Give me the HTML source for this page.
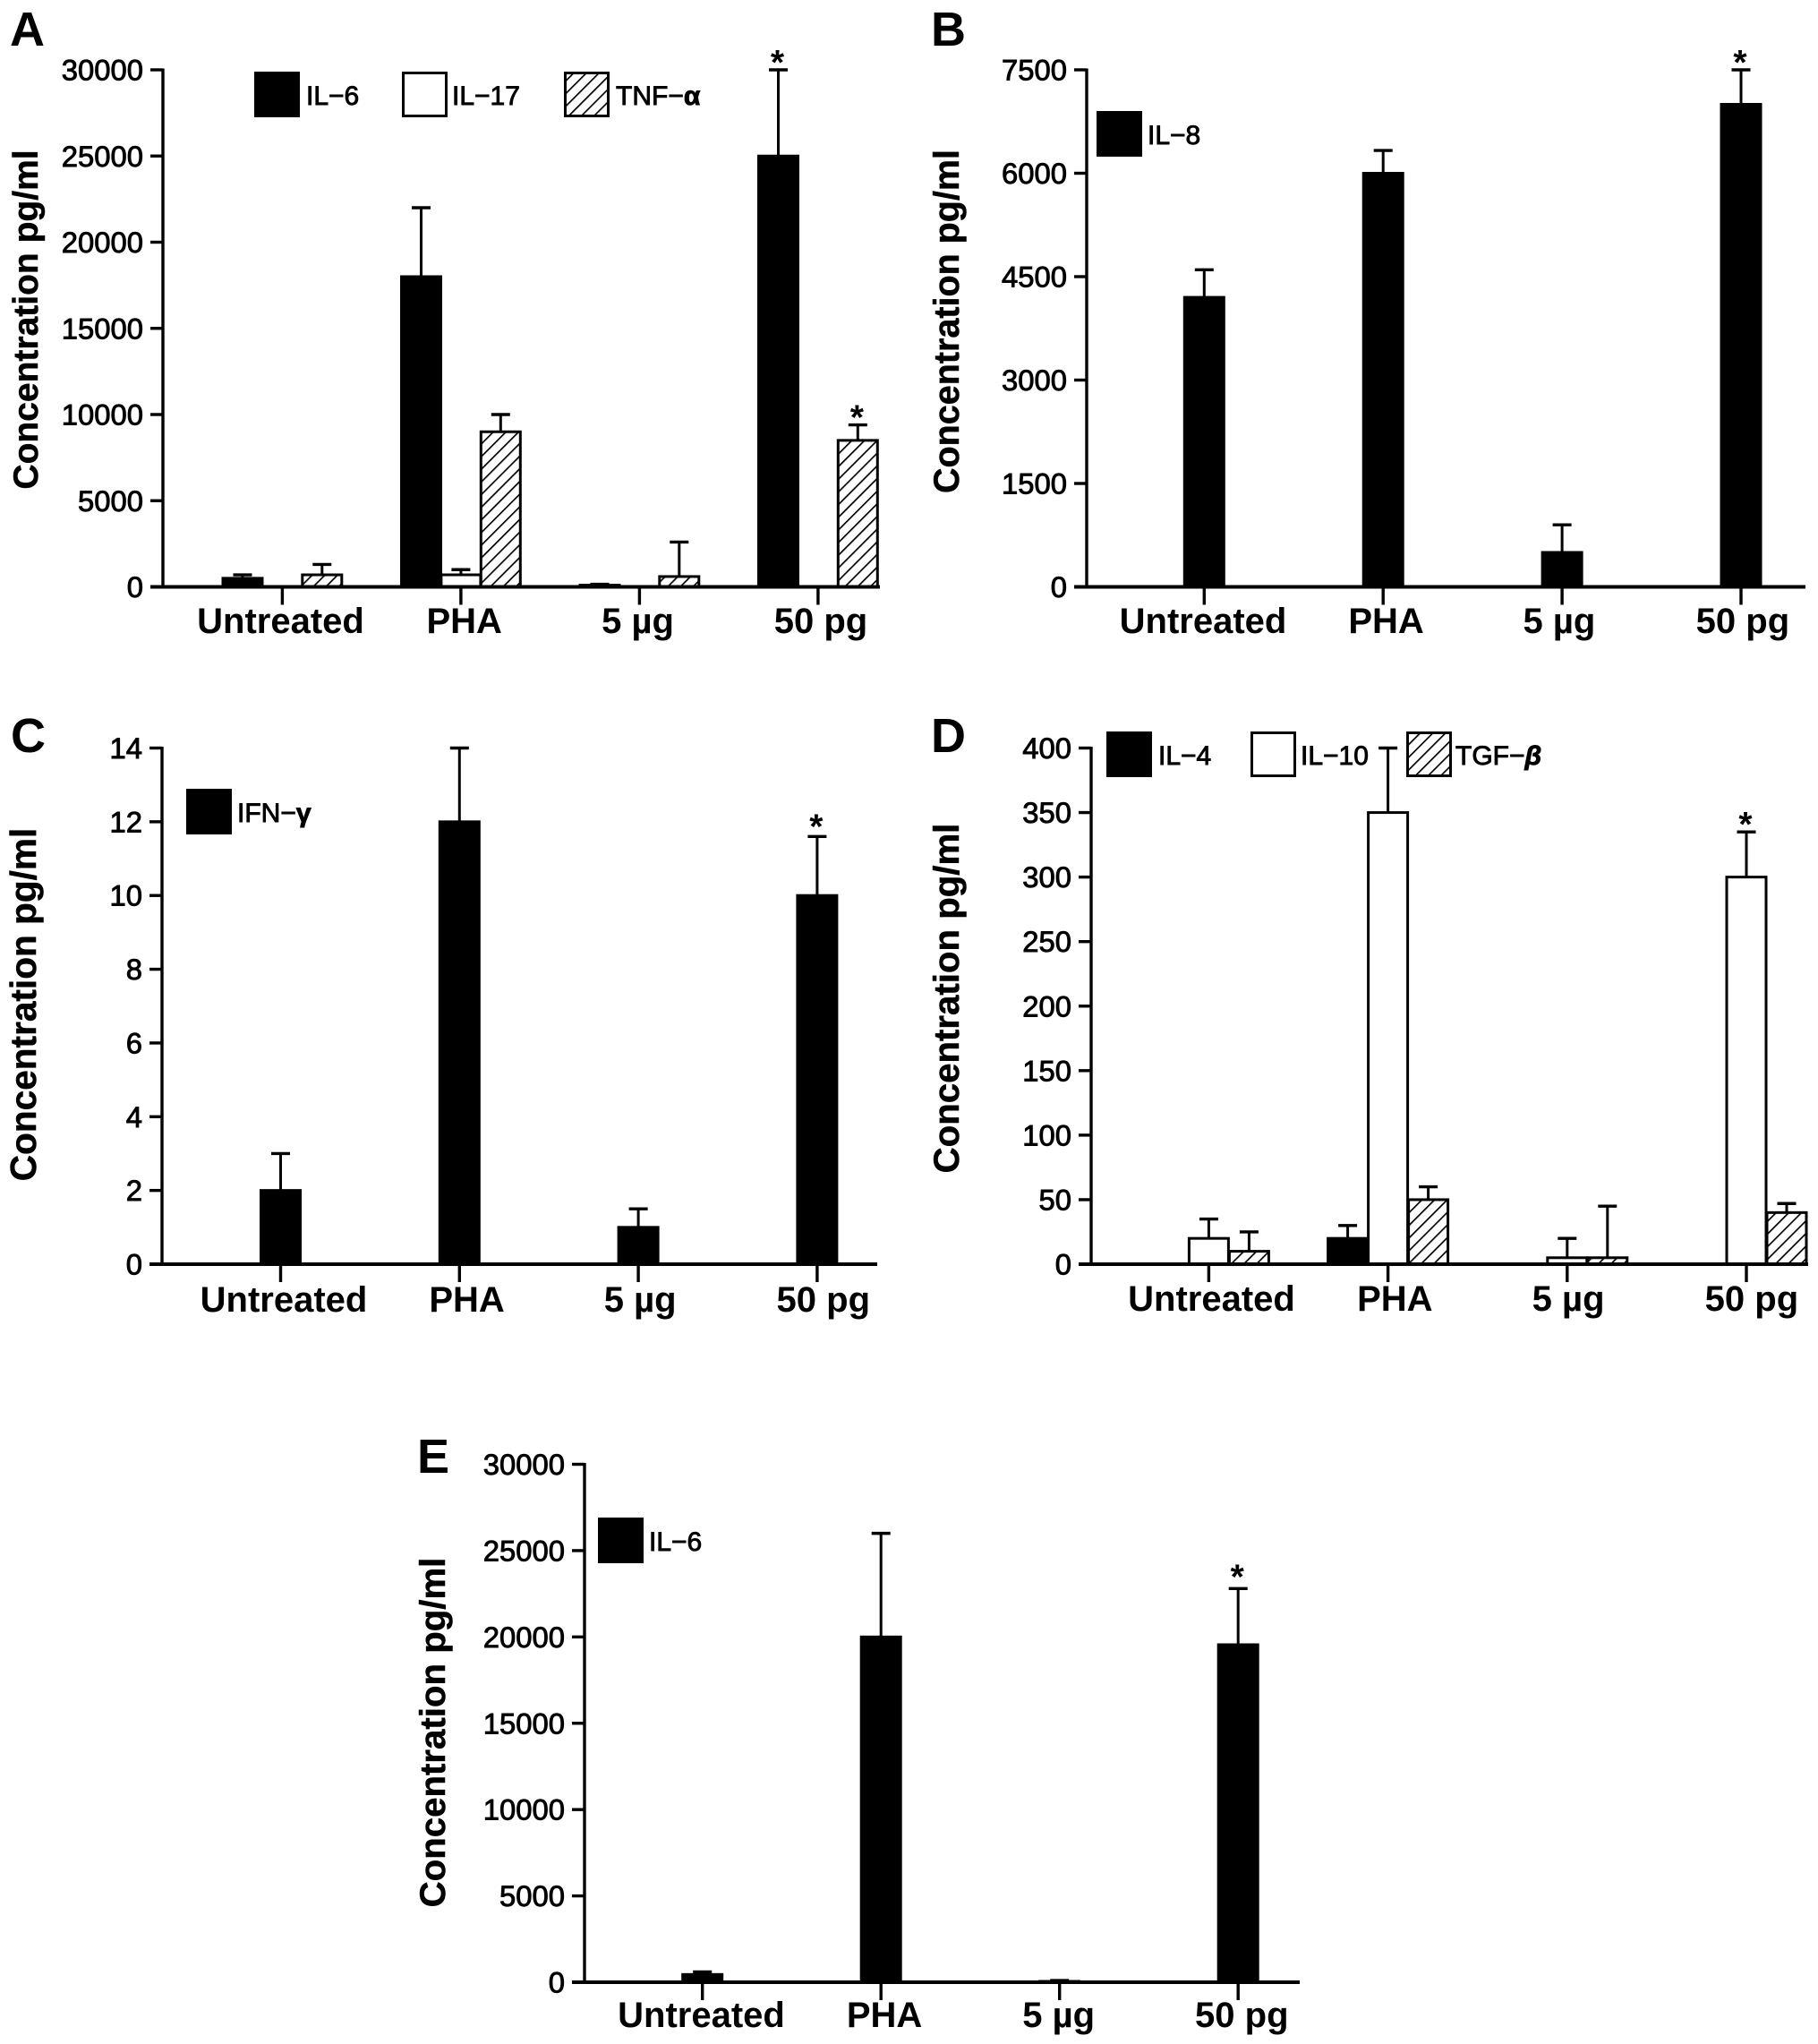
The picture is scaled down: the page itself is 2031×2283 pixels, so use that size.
<!DOCTYPE html>
<html lang="en">
<head>
<meta charset="utf-8">
<title>Cytokine concentration bar charts</title>
<style>
html,body{margin:0;padding:0;background:#fff}
svg{display:block}
text{font-family:"Liberation Sans",sans-serif;fill:#000}
</style>
</head>
<body>
<svg id="figure" xmlns="http://www.w3.org/2000/svg" width="2031" height="2283" viewBox="0 0 2031 2283">
<defs>
<pattern id="hatch" patternUnits="userSpaceOnUse" width="10" height="10" patternTransform="rotate(45)">
<rect width="10" height="10" fill="#fff"></rect>
<line x1="0" y1="0" x2="0" y2="10" stroke="#000" stroke-width="3.4"></line>
</pattern>
</defs>
</svg>
<script>
const categories = ['Untreated', 'PHA', '5 µg', '50 pg'];

const ticksA = [0, 5000, 10000, 15000, 20000, 25000, 30000];
const il6A = [500, 18000, 100, 25000];
const il6TopA = [700, 22000, 150, 30000];
const il17A = [0, 700, 0, 0];
const il17TopA = [0, 1000, 0, 0];
const tnfA = [700, 9000, 600, 8500];
const tnfTopA = [1300, 10000, 2600, 9400];

const ticksB = [0, 1500, 3000, 4500, 6000, 7500];
const il8B = [4200, 6000, 500, 7000];
const il8TopB = [4600, 6330, 900, 7500];

const ticksC = [0, 2, 4, 6, 8, 10, 12, 14];
const ifnC = [2, 12, 1, 10];
const ifnTopC = [3, 14, 1.5, 11.6];

const ticksD = [0, 50, 100, 150, 200, 250, 300, 350, 400];
const il4D = [0, 20, 0, 0];
const il4TopD = [0, 30, 0, 0];
const il10D = [20, 350, 5, 300];
const il10TopD = [35, 400, 20, 335];
const tgfD = [10, 50, 5, 40];
const tgfTopD = [25, 60, 45, 47];

const ticksE = [0, 5000, 10000, 15000, 20000, 25000, 30000];
const il6E = [450, 20000, 50, 19550];
const il6TopE = [600, 26000, 100, 22800];

const svg = document.getElementById('figure');
const NS = 'http://www.w3.org/2000/svg';

function mk(parent, tag, attrs, txt) {
  const el = document.createElementNS(NS, tag);
  for (const k in attrs) el.setAttribute(k, attrs[k]);
  if (txt !== undefined) el.textContent = txt;
  parent.appendChild(el);
  return el;
}

function fillOf(kind) {
  return kind === 'black' ? '#000' : kind === 'white' ? '#fff' : 'url(#hatch)';
}

function drawPanel(p) {
  const g = mk(svg, 'g', {});
  
  

  const maxV = p.ticks[p.ticks.length - 1];
  const y = v => p.y0 - (v / maxV) * (p.y0 - p.top);
  const x = i => p.firstTick + i * p.step;

  const letter = mk(g, 'text', {x: p.letterX, y: p.letterY, 'font-size': 54, 'font-weight': 700}, p.letter);
  
  

  const title = mk(g, 'text', {
    transform: 'translate(' + p.titleX + ',' + p.titleY + ') rotate(-90)',
    'text-anchor': 'middle', 'font-size': p.titleSize, 'font-weight': 700,
    stroke: '#000', 'stroke-width': 0.5
  }, 'Concentration pg/ml');
  
  

  p.series.forEach(function (s) {
    s.values.forEach(function (v, i) {
      const cx = x(i) + s.offset * p.barGap;
      if (s.tops[i] > v) {
        const stem = mk(g, 'line', {x1: cx, x2: cx, y1: y(v), y2: y(s.tops[i]), stroke: '#000', 'stroke-width': 3});
        
        
        const cap = mk(g, 'line', {x1: cx - 10.5, x2: cx + 10.5, y1: y(s.tops[i]), y2: y(s.tops[i]), stroke: '#000', 'stroke-width': 3.4});
        
        
      }
      if (v > 0) {
        const bar = mk(g, 'rect', {
          x: cx - p.barW / 2, y: y(v), width: p.barW, height: p.y0 - y(v),
          fill: fillOf(s.kind), stroke: '#000', 'stroke-width': 3
        });
        
        
      }
      if (s.stars && s.stars.includes(i)) {
        const star = mk(g, 'text', {x: cx - 1, y: y(s.tops[i]) + p.starDrop, 'text-anchor': 'middle', 'font-size': 39, 'font-weight': 700}, '*');
        
        
      }
    });
  });

  const yAxis = mk(g, 'line', {x1: p.left, x2: p.left, y1: p.top - 1.5, y2: p.y0 + 2, stroke: '#000', 'stroke-width': 3.4});
  
  
  const xAxis = mk(g, 'line', {x1: p.left - 14, x2: p.right, y1: p.y0, y2: p.y0, stroke: '#000', 'stroke-width': 4});
  
  

  p.ticks.forEach(function (t) {
    const tick = mk(g, 'line', {x1: p.left - 14, x2: p.left, y1: y(t), y2: y(t), stroke: '#000', 'stroke-width': 3.4});
    
    
    const lab = mk(g, 'text', {
      x: p.left - 22, y: y(t) + 11.5, 'text-anchor': 'end', 'font-size': 32.8,
      stroke: '#000', 'stroke-width': 0.9
    }, String(t));
    
    
  });

  categories.forEach(function (c, i) {
    const tick = mk(g, 'line', {x1: x(i), x2: x(i), y1: p.y0, y2: p.y0 + 20, stroke: '#000', 'stroke-width': 3.4});
    
    
    const lab = mk(g, 'text', {
      x: x(i) + p.labelShift[i], y: p.y0 + p.labelDrop, 'text-anchor': 'middle', 'font-size': 40, 'font-weight': 700
    }, c);
    
    
  });

  p.legend.forEach(function (l) {
    const sw = mk(g, 'rect', {x: l.x + 1.5, y: p.legendY + 1.5, width: 48, height: 48, fill: fillOf(l.kind), stroke: '#000', 'stroke-width': 3});
    
    
    const tx = mk(g, 'text', {x: l.textX, y: p.legendY + 37, 'font-size': 30, stroke: '#000', 'stroke-width': 0.9}, l.label);
    
    
    if (l.greek) {
      const gk = mk(tx, 'tspan', {'font-weight': 700, 'font-style': l.greekStyle || 'normal'}, l.greek);
      
      
    }
  });
}

drawPanel({
  letter: 'A', letterX: 11, letterY: 51, titleX: 42, titleY: 357, titleSize: 39, starDrop: 5,
  left: 182, right: 983, top: 78, y0: 655.5, firstTick: 315.4, step: 199.5, barW: 44, barGap: 44.4,
  labelShift: [-1.9, 3.8, -1.9, 3.1], labelDrop: 51.5,
  ticks: ticksA, legendY: 80,
  legend: [
    {kind: 'black', x: 284, textX: 342, label: 'IL−6'},
    {kind: 'white', x: 449, textX: 505, label: 'IL−17'},
    {kind: 'hatch', x: 630, textX: 688, label: 'TNF−', greek: 'α'}
  ],
  series: [
    {name: 'IL-6', kind: 'black', offset: -1, values: il6A, tops: il6TopA, stars: [3]},
    {name: 'IL-17', kind: 'white', offset: 0, values: il17A, tops: il17TopA},
    {name: 'TNF', kind: 'hatch', offset: 1, values: tnfA, tops: tnfTopA, stars: [3]}
  ]
});

drawPanel({
  letter: 'B', letterX: 1040, letterY: 51, titleX: 1071, titleY: 359, titleSize: 39.5, starDrop: 5,
  left: 1214, right: 2017, top: 78, y0: 655.5, firstTick: 1345.3, step: 199.9, barW: 44, barGap: 44.4,
  labelShift: [-1.3, 3.4, -3.2, 1.9], labelDrop: 51.5,
  ticks: ticksB, legendY: 124,
  legend: [{kind: 'black', x: 1225, textX: 1282, label: 'IL−8'}],
  series: [{name: 'IL-8', kind: 'black', offset: 0, values: il8B, tops: il8TopB, stars: [3]}]
});

drawPanel({
  letter: 'C', letterX: 12, letterY: 840, titleX: 40, titleY: 1122, titleSize: 40.6, starDrop: 2,
  left: 181, right: 980, top: 835.5, y0: 1412, firstTick: 313.5, step: 199.8, barW: 44, barGap: 44.4,
  labelShift: [3.5, 8.3, 2.1, 6.9], labelDrop: 53,
  ticks: ticksC, legendY: 881,
  legend: [{kind: 'black', x: 208, textX: 265, label: 'IFN−', greek: 'γ'}],
  series: [{name: 'IFN', kind: 'black', offset: 0, values: ifnC, tops: ifnTopC, stars: [3]}]
});

drawPanel({
  letter: 'D', letterX: 1040, letterY: 840, titleX: 1071, titleY: 1115, titleSize: 40.2, starDrop: 5,
  left: 1219, right: 2020, top: 835.5, y0: 1412, firstTick: 1350.4, step: 200.2, barW: 44, barGap: 45,
  labelShift: [3.1, 7.7, 1.3, 5.9], labelDrop: 52,
  ticks: ticksD, legendY: 817,
  legend: [
    {kind: 'black', x: 1236, textX: 1294, label: 'IL−4'},
    {kind: 'white', x: 1397, textX: 1453, label: 'IL−10'},
    {kind: 'hatch', x: 1571, textX: 1626, label: 'TGF−', greek: 'β', greekStyle: 'italic'}
  ],
  series: [
    {name: 'IL-4', kind: 'black', offset: -1, values: il4D, tops: il4TopD},
    {name: 'IL-10', kind: 'white', offset: 0, values: il10D, tops: il10TopD, stars: [3]},
    {name: 'TGF', kind: 'hatch', offset: 1, values: tgfD, tops: tgfTopD}
  ]
});

drawPanel({
  letter: 'E', letterX: 466, letterY: 1645, titleX: 497, titleY: 1935, titleSize: 40.2, starDrop: 0,
  left: 653, right: 1452, top: 1635.5, y0: 2214, firstTick: 784.7, step: 199.5, barW: 44, barGap: 44.4,
  labelShift: [-1.2, 3.9, -1, 4.1], labelDrop: 50,
  ticks: ticksE, legendY: 1695,
  legend: [{kind: 'black', x: 668, textX: 725, label: 'IL−6'}],
  series: [{name: 'IL-6', kind: 'black', offset: 0, values: il6E, tops: il6TopE, stars: [3]}]
});
</script>
</body>
</html>
